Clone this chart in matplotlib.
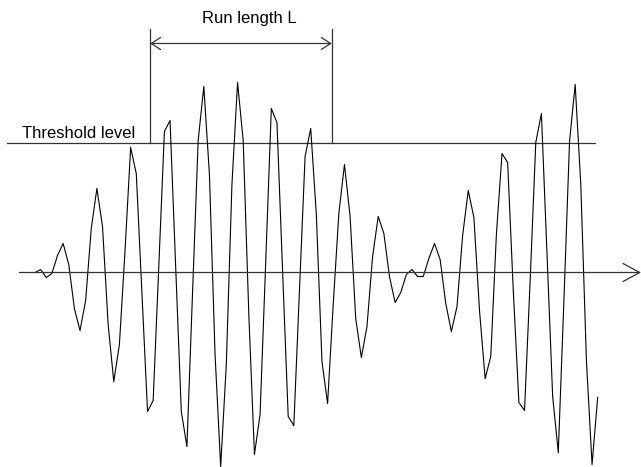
import numpy as np
import matplotlib
matplotlib.use("Agg")
import matplotlib.pyplot as plt

plt.rcParams["font.family"] = ["Liberation Sans", "DejaVu Sans"]

# sampled signal, one value per sample (positive = above the zero line)
signal = [0, 3, -5, -1, 17, 29, 8, -36, -58, -28,
          44, 84, 46, -52, -109, -72, 22, 125, 99, -20,
          -139, -128, 6, 141, 152, 6, -139, -174, -20, 132,
          186, 98, -82, -194, -92, 88, 190, 132, -42, -182,
          -142, 10, 164, 150, 2, -144, -153, -18, 116, 144,
          58, -89, -131, -32, 59, 108, 56, -46, -85, -54,
          16, 56, 39, -4, -30, -20, -2, 3, -4, -4,
          14, 29, 13, -31, -59, -34, 37, 82, 55, -38,
          -106, -84, 38, 119, 110, -18, -130, -138, -8, 130,
          159, 18, -124, -180, -28, 131, 188, 88, -88, -192,
          -125]
threshold = 130
run_start, run_end = 20.45, 52.75   # run length window, in samples

n = np.arange(len(signal))

fig = plt.figure(figsize=(6.41, 4.67), dpi=100)
ax = fig.add_axes([0, 0, 1, 1])
ax.set_xlim(-6.22, 107.7)
ax.set_ylim(-194.5, 272.5)
ax.axis("off")

# zero line with open arrow head
ax.annotate("", xy=(107.7, 0), xytext=(-2.79, 0),
            arrowprops=dict(arrowstyle="->,head_length=12,head_width=6.5",
                            mutation_scale=1, lw=0.9, color="#333333",
                            shrinkA=0, shrinkB=0))

# threshold
ax.plot([-5.06, 99.6], [threshold, threshold], color="#333333", lw=0.9)
ax.text(-2.36, threshold + 5, "Threshold level", fontsize=12,
        ha="left", va="baseline")

# signal trace
ax.plot(n, signal, color="black", lw=0.8, clip_on=False)

# run length marker
top = 244
for xv in (run_start, run_end):
    ax.plot([xv, xv], [threshold, top], color="#333333", lw=0.9)
ax.annotate("", xy=(run_end, 229), xytext=(run_start, 229),
            arrowprops=dict(arrowstyle="<->,head_length=6.7,head_width=4.3",
                            mutation_scale=1, lw=0.9, color="#333333",
                            shrinkA=0, shrinkB=0))
ax.text(38.1, 250, "Run length L", fontsize=12, ha="center", va="baseline")

fig.savefig("out.png", dpi=100)
